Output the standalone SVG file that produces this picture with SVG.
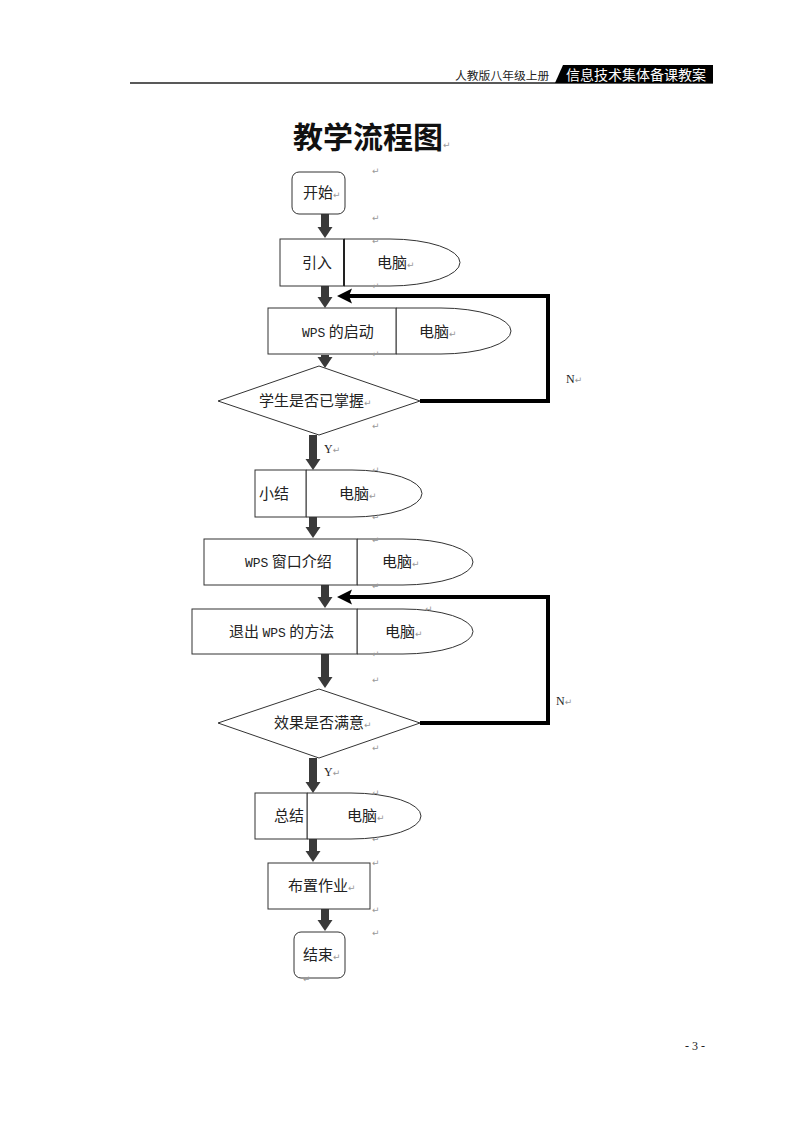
<svg xmlns="http://www.w3.org/2000/svg" width="800" height="1129" viewBox="0 0 800 1129">
<style>
.box{fill:#fff;stroke:#333;stroke-width:1}
.div{stroke:#333;stroke-width:1}
.t{font-family:"Noto Sans CJK SC","Noto Sans",sans-serif;font-size:15px;fill:#222}
.m{font-family:"Liberation Mono",monospace;font-size:13px}
.s{font-family:"Liberation Serif","Noto Sans CJK SC",serif;font-size:12px;fill:#222}
.p{font-family:"DejaVu Sans",sans-serif;font-size:9px;fill:#999;font-weight:normal}
.dk{stroke:#3a3a3a;stroke-width:8;fill:none}
.bk{stroke:#000;stroke-width:4;fill:none}
</style>
<defs>
<marker id="ah" markerUnits="userSpaceOnUse" viewBox="0 -8 11 16" refX="0" refY="0" markerWidth="11" markerHeight="16" orient="auto">
<path d="M0,-7.5 L11,0 L0,7.5 z" fill="#3a3a3a"/>
</marker>
<marker id="bh" markerUnits="userSpaceOnUse" viewBox="0 -8 16 16" refX="3" refY="0" markerWidth="16" markerHeight="16" orient="auto">
<path d="M0,-7.5 L15,0 L0,7.5 L3,0 z" fill="#000"/>
</marker>
</defs>

<g id="header">
<line x1="130" y1="83" x2="713" y2="83" stroke="#222" stroke-width="1.5"/>
<polygon points="555,83 563,65 713,65 713,83" fill="#000"/>
<text x="566" y="80" font-family="Noto Sans CJK SC, sans-serif" font-size="14" fill="#fff">信息技术集体备课教案</text>
<text x="455" y="80" font-family="Noto Sans CJK SC, sans-serif" font-size="11.8" fill="#222">人教版八年级上册</text>
</g>

<g id="title">
<text x="293" y="148" font-family="Noto Sans CJK SC, sans-serif" font-size="30" font-weight="bold" fill="#111">教学流程图<tspan class="p" font-size="10">↵</tspan></text>
</g>

<g id="connectors">
<line class="dk" x1="325" y1="214" x2="325" y2="227" marker-end="url(#ah)"/>
<line class="dk" x1="325" y1="286" x2="325" y2="297" marker-end="url(#ah)"/>
<line class="dk" x1="325" y1="355" x2="325" y2="357" marker-end="url(#ah)"/>
<line class="dk" x1="313" y1="435" x2="313" y2="459" marker-end="url(#ah)"/>
<line class="dk" x1="313" y1="517" x2="313" y2="527" marker-end="url(#ah)"/>
<line class="dk" x1="325" y1="585" x2="325" y2="597" marker-end="url(#ah)"/>
<line class="dk" x1="325" y1="654" x2="325" y2="677" marker-end="url(#ah)"/>
<line class="dk" x1="313" y1="758" x2="313" y2="782" marker-end="url(#ah)"/>
<line class="dk" x1="313" y1="839" x2="313" y2="851" marker-end="url(#ah)"/>
<line class="dk" x1="325" y1="909" x2="325" y2="920" marker-end="url(#ah)"/>
<path class="bk" d="M420,401 H548 V296 H349" marker-end="url(#bh)"/>
<path class="bk" d="M420,723 H548 V597 H349" marker-end="url(#bh)"/>
<text class="s" x="566" y="383">N<tspan class="p">↵</tspan></text>
<text class="s" x="324" y="453">Y<tspan class="p">↵</tspan></text>
<text class="s" x="556" y="705">N<tspan class="p">↵</tspan></text>
<text class="s" x="324" y="776">Y<tspan class="p">↵</tspan></text>
</g>

<g id="start">
<rect class="box" x="292" y="172" width="53" height="42" rx="7"/>
<text class="t" x="303" y="198">开始<tspan class="p">↵</tspan></text>
</g>

<g id="intro">
<path class="box" d="M344,239 H390 A70,23.5 0 0 1 390,286 H344 Z"/>
<rect class="box" x="280" y="239" width="64" height="47"/>
<line x1="344" y1="239" x2="344" y2="286" stroke="#222" stroke-width="2"/>
<text class="t" x="302" y="268">引入</text>
<text class="t" x="377" y="268">电脑<tspan class="p">↵</tspan></text>
</g>

<g id="wps-start">
<path class="box" d="M396,308 H441 A70,23 0 0 1 441,354 H396 Z"/>
<rect class="box" x="268" y="308" width="128" height="46"/>
<text class="t" x="302" y="337"><tspan class="m">WPS</tspan> 的启动</text>
<text class="t" x="419" y="337">电脑<tspan class="p">↵</tspan></text>
</g>

<g id="decision1">
<polygon class="box" points="218,401 319,366 420,401 319,435"/>
<text class="t" x="259" y="406">学生是否已掌握<tspan class="p">↵</tspan></text>
</g>

<g id="summary1">
<path class="box" d="M306,470 H352 A70,23.5 0 0 1 352,517 H306 Z"/>
<rect class="box" x="255" y="470" width="51" height="47"/>
<text class="t" x="259" y="499">小结</text>
<text class="t" x="339" y="499">电脑<tspan class="p">↵</tspan></text>
</g>

<g id="wps-window">
<path class="box" d="M357,539 H403 A70,23 0 0 1 403,585 H357 Z"/>
<rect class="box" x="204" y="539" width="153" height="46"/>
<text class="t" x="245" y="567"><tspan class="m">WPS</tspan> 窗口介绍</text>
<text class="t" x="382" y="567">电脑<tspan class="p">↵</tspan></text>
</g>

<g id="wps-exit">
<path class="box" d="M357,609 H403 A70,22.5 0 0 1 403,654 H357 Z"/>
<rect class="box" x="192" y="609" width="165" height="45"/>
<text class="t" x="229" y="637">退出 <tspan class="m">WPS</tspan> 的方法</text>
<text class="t" x="385" y="637">电脑<tspan class="p">↵</tspan></text>
</g>

<g id="decision2">
<polygon class="box" points="218,723 319,689 420,723 319,758"/>
<text class="t" x="274" y="728">效果是否满意<tspan class="p">↵</tspan></text>
</g>

<g id="summary2">
<path class="box" d="M307,793 H351 A70,23 0 0 1 351,839 H307 Z"/>
<rect class="box" x="255" y="793" width="52" height="46"/>
<text class="t" x="274" y="821">总结</text>
<text class="t" x="347" y="821">电脑<tspan class="p">↵</tspan></text>
</g>

<g id="homework">
<rect class="box" x="268" y="863" width="102" height="46"/>
<text class="t" x="288" y="891">布置作业<tspan class="p">↵</tspan></text>
</g>

<g id="end">
<rect class="box" x="294" y="932" width="51" height="46" rx="7"/>
<text class="t" x="303" y="960">结束<tspan class="p">↵</tspan></text>
</g>

<g id="marks">
<text class="p" x="372" y="174">↵</text>
<text class="p" x="372" y="221">↵</text>
<text class="p" x="372" y="244">↵</text>
<text class="p" x="372" y="289">↵</text>
<text class="p" x="372" y="357">↵</text>
<text class="p" x="372" y="429">↵</text>
<text class="p" x="372" y="473">↵</text>
<text class="p" x="372" y="520">↵</text>
<text class="p" x="372" y="543">↵</text>
<text class="p" x="372" y="589">↵</text>
<text class="p" x="425" y="612">↵</text>
<text class="p" x="372" y="657">↵</text>
<text class="p" x="372" y="683">↵</text>
<text class="p" x="372" y="751">↵</text>
<text class="p" x="372" y="796">↵</text>
<text class="p" x="372" y="842">↵</text>
<text class="p" x="372" y="866">↵</text>
<text class="p" x="372" y="913">↵</text>
<text class="p" x="372" y="936">↵</text>
<text class="p" x="303" y="982">↵</text>
</g>

<g id="footer">
<text x="705" y="1050" text-anchor="end" font-family="Liberation Serif, serif" font-size="12" fill="#222">- 3 -</text>
</g>
</svg>
